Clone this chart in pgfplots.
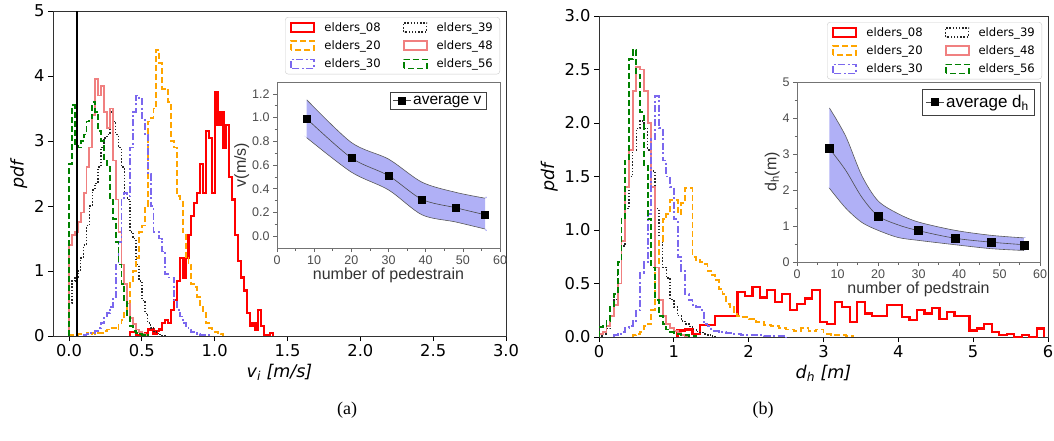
\documentclass[border=0pt]{standalone}
\usepackage{pgfplots}
\usepackage{pgfplotstable}
\pgfplotsset{compat=1.18}
\usepackage{fontspec}
\setmainfont{DejaVu Sans}
\newfontfamily\arialfont{Liberation Sans}
\newfontfamily\timesfont{Liberation Serif}

\definecolor{cRed}{RGB}{255,0,0}
\definecolor{cOrange}{RGB}{255,165,0}
\definecolor{cBlue}{RGB}{123,104,238}
\definecolor{cPink}{RGB}{240,128,128}
\definecolor{cGreen}{RGB}{0,128,0}
\definecolor{bandfill}{RGB}{176,176,246}
\definecolor{spine}{RGB}{50,50,50}

% ---------- panel (a): v_i histograms (left bin edge, pdf) ----------
\pgfplotstableread{
x y
0.42 0
0.42 0.06
0.44 0.06
0.46 0.02
0.48 0.02
0.50 0.03
0.52 0.05
0.54 0.10
0.56 0.10
0.58 0.03
0.60 0.08
0.62 0.10
0.64 0.20
0.66 0.25
0.68 0.20
0.70 0.40
0.72 0.55
0.74 0.85
0.76 1.20
0.78 0.90
0.80 1.20
0.82 1.55
0.84 1.85
0.86 2.05
0.88 2.20
0.90 2.65
0.92 2.20
0.94 3.15
0.96 3.05
0.98 2.20
1.00 3.75
1.02 3.25
1.04 3.45
1.06 2.90
1.08 3.25
1.10 2.45
1.12 2.10
1.14 1.55
1.16 1.15
1.18 0.90
1.20 0.70
1.22 0.35
1.24 0.15
1.26 0.20
1.28 0.10
1.30 0.40
1.32 0.15
1.34 0.02
1.36 0.02
1.38 0.05
1.40 0
}\aEight
\pgfplotstableread{
x y
0.00 0
0.00 0.01
0.02 0.02
0.04 0.02
0.06 0.03
0.08 0.03
0.10 0.02
0.12 0.04
0.14 0.03
0.16 0.04
0.18 0.03
0.20 0.05
0.22 0.05
0.24 0.08
0.26 0.10
0.28 0.13
0.30 0.12
0.32 0.10
0.34 0.18
0.36 0.25
0.38 0.35
0.40 0.50
0.42 0.85
0.44 1.00
0.46 1.20
0.48 1.60
0.50 1.70
0.52 2.00
0.54 3.30
0.56 3.35
0.58 3.50
0.60 4.40
0.62 4.20
0.64 3.80
0.66 3.80
0.68 3.60
0.70 3.00
0.72 2.90
0.74 2.15
0.76 2.10
0.78 1.60
0.80 1.20
0.82 1.10
0.84 0.80
0.86 0.75
0.88 0.60
0.90 0.45
0.92 0.35
0.94 0.20
0.96 0.12
0.98 0.10
1.00 0.06
1.02 0.05
1.04 0.03
1.06 0
}\aTwenty
\pgfplotstableread{
x y
0.10 0
0.10 0.02
0.12 0.03
0.14 0.05
0.16 0.05
0.18 0.08
0.20 0.12
0.22 0.20
0.24 0.30
0.26 0.35
0.28 0.45
0.30 0.60
0.32 1.10
0.34 1.45
0.36 2.10
0.38 2.20
0.40 2.15
0.42 2.90
0.44 3.45
0.46 3.70
0.48 3.65
0.50 3.35
0.52 3.10
0.54 2.50
0.56 2.00
0.58 1.60
0.60 1.60
0.62 1.50
0.64 1.30
0.66 0.95
0.68 0.90
0.70 0.90
0.72 0.55
0.74 0.40
0.76 0.30
0.78 0.20
0.80 0.15
0.82 0.10
0.84 0.06
0.86 0.04
0.88 0.03
0.90 0.02
0.92 0.01
0.94 0.01
0.96 0
}\aThirty
\pgfplotstableread{
x y
0.00 0
0.00 0.50
0.02 0.85
0.04 0.90
0.06 1.00
0.08 1.20
0.10 1.40
0.12 1.70
0.14 2.00
0.16 2.25
0.18 2.35
0.20 2.60
0.22 2.90
0.24 3.05
0.26 3.10
0.28 3.45
0.30 3.30
0.32 3.10
0.34 2.90
0.36 2.60
0.38 2.20
0.40 2.10
0.42 1.60
0.44 1.50
0.46 1.10
0.48 0.85
0.50 0.55
0.52 0.35
0.54 0.20
0.56 0.12
0.58 0.07
0.60 0.04
0.62 0.02
0.64 0.01
0.66 0
}\aThirtyNine
\pgfplotstableread{
x y
0.00 0
0.00 1.40
0.02 1.55
0.04 1.60
0.06 1.75
0.08 1.90
0.10 2.20
0.12 2.60
0.14 2.90
0.16 3.40
0.18 3.95
0.20 3.70
0.22 3.85
0.24 3.45
0.26 3.20
0.28 3.50
0.30 2.70
0.32 2.10
0.34 1.60
0.36 1.10
0.38 0.80
0.40 0.50
0.42 0.28
0.44 0.18
0.46 0.10
0.48 0.06
0.50 0.03
0.52 0.01
0.54 0
}\aFortyEight
\pgfplotstableread{
x y
0.00 0
0.00 2.65
0.02 3.55
0.04 2.95
0.06 2.90
0.08 3.00
0.10 3.10
0.12 3.30
0.14 3.35
0.16 3.60
0.18 3.45
0.20 3.15
0.22 3.00
0.24 2.70
0.26 2.60
0.28 2.10
0.30 1.80
0.32 1.45
0.34 1.10
0.36 0.80
0.38 0.55
0.40 0.30
0.42 0.15
0.44 0.08
0.46 0.05
0.48 0.03
0.50 0.02
0.52 0.01
0.54 0
}\aFiftySix

% ---------- panel (b): d_h histograms ----------
\pgfplotstableread{
x y
1.05 0
1.05 0.06
1.15 0.07
1.25 0.03
1.35 0.11
1.45 0.11
1.55 0.20
1.65 0.20
1.75 0.20
1.85 0.42
1.95 0.38
2.05 0.47
2.15 0.37
2.25 0.44
2.35 0.33
2.45 0.40
2.55 0.25
2.65 0.31
2.75 0.36
2.85 0.44
2.95 0.14
3.05 0.12
3.15 0.33
3.25 0.28
3.35 0.14
3.45 0.33
3.55 0.22
3.65 0.20
3.75 0.20
3.85 0.30
3.95 0.30
4.05 0.19
4.15 0.16
4.25 0.25
4.35 0.22
4.45 0.27
4.55 0.17
4.65 0.23
4.75 0.20
4.85 0.20
4.95 0.06
5.05 0.08
5.15 0.12
5.25 0.05
5.35 0.02
5.45 0.03
5.55 0.00
5.65 0.02
5.75 0.00
5.85 0.08
5.95 0
}\bEight
\pgfplotstableread{
x y
0.45 0
0.45 0.02
0.50 0.03
0.55 0.05
0.60 0.10
0.65 0.12
0.70 0.25
0.75 0.68
0.80 0.90
0.85 1.10
0.90 1.15
0.95 1.28
1.00 1.28
1.05 1.15
1.10 1.25
1.15 1.39
1.20 1.39
1.25 0.75
1.30 0.72
1.35 0.70
1.40 0.68
1.45 0.62
1.50 0.58
1.55 0.53
1.60 0.45
1.65 0.40
1.70 0.31
1.75 0.28
1.80 0.22
1.85 0.20
1.90 0.19
2.00 0.17
2.10 0.14
2.20 0.11
2.30 0.10
2.40 0.08
2.50 0.07
2.60 0.06
2.70 0.08
2.80 0.06
2.90 0.07
3.00 0.03
3.10 0.02
3.20 0.02
3.30 0.01
3.40 0
}\bTwenty
\pgfplotstableread{
x y
0.20 0
0.20 0.02
0.25 0.03
0.30 0.05
0.35 0.08
0.40 0.10
0.45 0.15
0.50 0.25
0.55 0.60
0.60 0.70
0.65 1.15
0.70 1.85
0.75 2.25
0.80 1.95
0.85 1.65
0.90 1.50
0.95 1.40
1.00 1.10
1.05 0.75
1.10 0.62
1.15 0.40
1.20 0.35
1.25 0.30
1.30 0.28
1.35 0.25
1.40 0.12
1.45 0.10
1.50 0.06
1.60 0.05
1.70 0.04
1.80 0.03
1.90 0.02
2.00 0.02
2.20 0.01
2.40 0.01
2.50 0
}\bThirty
\pgfplotstableread{
x y
0.00 0
0.00 0.01
0.05 0.03
0.10 0.08
0.15 0.20
0.20 0.35
0.25 0.60
0.30 0.85
0.35 1.20
0.40 1.50
0.45 1.75
0.50 1.95
0.55 2.02
0.60 1.95
0.65 1.75
0.70 1.55
0.75 1.20
0.80 0.95
0.85 0.65
0.90 0.55
0.95 0.35
1.00 0.28
1.05 0.20
1.10 0.15
1.15 0.12
1.20 0.10
1.25 0.07
1.30 0.05
1.35 0.04
1.40 0.03
1.45 0.02
1.50 0.01
1.55 0
}\bThirtyNine
\pgfplotstableread{
x y
0.00 0
0.00 0.03
0.05 0.05
0.10 0.10
0.15 0.20
0.20 0.30
0.25 0.50
0.30 0.90
0.35 1.40
0.40 1.75
0.45 2.30
0.50 2.52
0.55 2.50
0.60 2.30
0.65 2.00
0.70 1.40
0.75 0.65
0.80 0.35
0.85 0.20
0.90 0.12
0.95 0.08
1.00 0.06
1.05 0.04
1.10 0.02
1.15 0.01
1.20 0
}\bFortyEight
\pgfplotstableread{
x y
0.00 0
0.00 0.09
0.05 0.10
0.10 0.15
0.15 0.28
0.20 0.40
0.25 0.70
0.30 1.10
0.35 1.65
0.40 2.60
0.45 2.68
0.50 2.45
0.55 2.10
0.60 1.60
0.65 1.10
0.70 0.65
0.75 0.35
0.80 0.20
0.85 0.12
0.90 0.07
0.95 0.05
1.00 0.04
1.05 0.03
1.10 0.02
1.15 0.02
1.20 0.01
1.25 0.01
1.30 0
}\bFiftySix

% ---------- insets ----------
\pgfplotstableread{
n m up lo
8 0.99 1.15 0.83
20 0.66 0.79 0.54
30 0.51 0.65 0.39
39 0.31 0.455 0.18
48 0.24 0.37 0.12
56 0.18 0.32 0.06
}\insetA
% band outline: upper edge left->right, lower edge right->left
\pgfplotstableread{
x y
8 1.15
20 0.79
30 0.65
39 0.455
48 0.37
56 0.32
56 0.32
56 0.06
56 0.06
48 0.12
39 0.18
30 0.39
20 0.54
8 0.83
8 0.83
}\bandA
\pgfplotstableread{
n d
8 3.15
20 1.28
30 0.87
39 0.66
48 0.55
56 0.48
}\insetBm
\pgfplotstableread{
n m up lo
8 3.15 4.28 2.05
12 2.55 3.50 1.50
16 1.80 2.40 1.10
20 1.28 1.70 0.88
25 1.03 1.34 0.68
30 0.87 1.11 0.60
39 0.66 0.88 0.48
48 0.55 0.74 0.37
56 0.48 0.67 0.32
}\insetBband
\pgfplotstableread{
x y
8 4.28
12 3.50
16 2.40
20 1.70
25 1.34
30 1.11
39 0.88
48 0.74
56 0.67
56 0.67
56 0.32
56 0.32
48 0.37
39 0.48
30 0.60
25 0.68
20 0.88
16 1.10
12 1.50
8 2.05
8 2.05
}\bandB

\pgfplotsset{
  /pgf/number format/assume math mode=true,
  mainax/.style={
    scale only axis, anchor=south west,
    axis line style={spine, line width=1pt},
    tick pos=left, tick align=outside,
    major tick length=5pt,
    every tick/.style={black, line width=0.9pt},
    tick label style={font=\fontsize{16.3}{19}\selectfont},
    label style={font=\fontsize{17.5}{20}\selectfont},
    legend columns=2, legend cell align=left,
    legend style={at={(1,1)}, anchor=north east, xshift=-6pt, yshift=-6pt,
      draw=black!20, fill=white, rounded corners=3pt,
      font=\fontsize{11.6}{13}\selectfont,
      inner xsep=5pt, inner ysep=3pt, row sep=4pt,
      /tikz/every even column/.append style={column sep=20pt}},
    legend image code/.code={\draw[##1, sharp corners] (0pt,-4.5pt) rectangle (23pt,4.5pt);
      \path (30pt,0pt);},
  },
  insetax/.style={
    scale only axis, anchor=south west,
    axis line style={black!55, line width=0.8pt},
    tick pos=left, tick align=outside,
    major tick length=4pt, minor tick length=2.5pt,
    every tick/.style={black!60, line width=0.6pt},
    minor tick num=1,
    tick label style={font=\arialfont\fontsize{12.5}{14}\selectfont, text=black!70},
    label style={font=\arialfont\fontsize{16}{18}\selectfont, text=black!80},
    legend style={at={(1,1)}, anchor=north east, draw=black!75, fill=white,
      inner xsep=2.5pt, inner ysep=1.5pt},
    legend image code/.code={\draw[black!70, line width=0.6pt] (0pt,0pt) -- (18pt,0pt);
      \fill[black] (5.5pt,-3.5pt) rectangle (12.5pt,3.5pt);},
  },
  h08/.style={const plot, no marks, cRed, line width=2.2pt},
  h20/.style={const plot, no marks, cOrange, line width=1.9pt, dash pattern=on 6pt off 3pt},
  h30/.style={const plot, no marks, cBlue, line width=1.9pt, dash pattern=on 7pt off 2.5pt on 2pt off 2.5pt},
  h39/.style={const plot, no marks, black!85, line width=1.5pt, dash pattern=on 1.4pt off 1.8pt},
  h48/.style={const plot, no marks, cPink, line width=1.9pt},
  h56/.style={const plot, no marks, cGreen, line width=1.9pt, dash pattern=on 6pt off 3pt},
}

\begin{document}
\begin{tikzpicture}
\useasboundingbox (0pt,0pt) rectangle (1054pt,-441pt);

% ===== panel (a) =====
\begin{axis}[mainax,
  at={(53pt,-336pt)}, width=453pt, height=325pt,
  xmin=-0.11, xmax=3.0, ymin=0, ymax=5,
  xtick={0,0.5,1,1.5,2,2.5,3}, ytick={0,1,2,3,4,5},
  xticklabel style={/pgf/number format/.cd, fixed, fixed zerofill, precision=1},
  xlabel={\textit{v\textsubscript{i} [m/s]}}, ylabel={\textit{pdf}},
]
\addplot[h08] table[x=x,y=y] {\aEight}; \addlegendentry{elders\_08}
\addplot[h39] table[x=x,y=y] {\aThirtyNine}; \addlegendentry{elders\_39}
\addplot[h20] table[x=x,y=y] {\aTwenty}; \addlegendentry{elders\_20}
\addplot[h48] table[x=x,y=y] {\aFortyEight}; \addlegendentry{elders\_48}
\addplot[h30] table[x=x,y=y] {\aThirty}; \addlegendentry{elders\_30}
\addplot[h56] table[x=x,y=y] {\aFiftySix}; \addlegendentry{elders\_56}
\addplot[black, line width=2pt, forget plot] coordinates {(0.053,0) (0.053,5)};
\end{axis}

% ===== inset (a) =====
\begin{axis}[insetax,
  at={(277pt,-248pt)}, width=223pt, height=166pt,
  xmin=0, xmax=60, ymin=-0.1, ymax=1.3,
  xtick={0,10,20,30,40,50,60}, ytick={0,0.2,0.4,0.6,0.8,1.0,1.2},
  yticklabel style={/pgf/number format/.cd, fixed, fixed zerofill, precision=1},
  xlabel={number of pedestrain}, ylabel={v(m/s)},
  xlabel style={yshift=3pt}, ylabel style={yshift=-4pt},
  legend style={xshift=-14pt, yshift=-10pt, font=\arialfont\fontsize{15.5}{17}\selectfont},
]
\addplot[fill=bandfill, draw=none, smooth, forget plot] table[x=x,y=y] {\bandA};
\addplot[black!65, line width=0.6pt, smooth, forget plot] table[x=n,y=up] {\insetA};
\addplot[black!65, line width=0.6pt, smooth, forget plot] table[x=n,y=lo] {\insetA};
\addplot[black!70, line width=0.6pt, smooth, mark=square*, mark size=3.5pt,
  mark options={black, solid}] table[x=n,y=m] {\insetA};
\addlegendentry{average v}
\end{axis}

% ===== panel (b) =====
\begin{axis}[mainax,
  at={(599pt,-337pt)}, width=449pt, height=321pt,
  xmin=0, xmax=6, ymin=0, ymax=3,
  xtick={0,1,2,3,4,5,6}, ytick={0,0.5,1,1.5,2,2.5,3},
  yticklabel style={/pgf/number format/.cd, fixed, fixed zerofill, precision=1},
  xlabel={\textit{d\textsubscript{h} [m]}}, ylabel={\textit{pdf}},
]
\addplot[h08] table[x=x,y=y] {\bEight}; \addlegendentry{elders\_08}
\addplot[h39] table[x=x,y=y] {\bThirtyNine}; \addlegendentry{elders\_39}
\addplot[h20] table[x=x,y=y] {\bTwenty}; \addlegendentry{elders\_20}
\addplot[h48] table[x=x,y=y] {\bFortyEight}; \addlegendentry{elders\_48}
\addplot[h30] table[x=x,y=y] {\bThirty}; \addlegendentry{elders\_30}
\addplot[h56] table[x=x,y=y] {\bFiftySix}; \addlegendentry{elders\_56}
\end{axis}

% ===== inset (b) =====
\begin{axis}[insetax,
  at={(797pt,-262pt)}, width=243pt, height=180pt,
  xmin=0, xmax=60, ymin=0, ymax=5,
  xtick={0,10,20,30,40,50,60}, ytick={0,1,2,3,4,5},
  xlabel={number of pedstrain}, ylabel={d\textsubscript{h}(m)},
  xlabel style={yshift=3pt}, ylabel style={yshift=-4pt},
  legend style={xshift=-6pt, yshift=-7pt, inner ysep=4pt, inner xsep=3pt,
    font=\arialfont\fontsize{17}{19}\selectfont},
]
\addplot[fill=bandfill, draw=none, smooth, forget plot] table[x=x,y=y] {\bandB};
\addplot[black!65, line width=0.6pt, smooth, forget plot] table[x=n,y=up] {\insetBband};
\addplot[black!65, line width=0.6pt, smooth, forget plot] table[x=n,y=lo] {\insetBband};
\addplot[black!70, line width=0.6pt, smooth, forget plot] table[x=n,y=m] {\insetBband};
\addplot[only marks, mark=square*, mark size=4pt, mark options={black}] table[x=n,y=d] {\insetBm};
\addlegendentry{average d\textsubscript{h}}
\end{axis}

\node[font=\timesfont\fontsize{18}{20}\selectfont] at (347pt,-410pt) {(a)};
\node[font=\timesfont\fontsize{18}{20}\selectfont] at (763pt,-410pt) {(b)};
\end{tikzpicture}
\end{document}
